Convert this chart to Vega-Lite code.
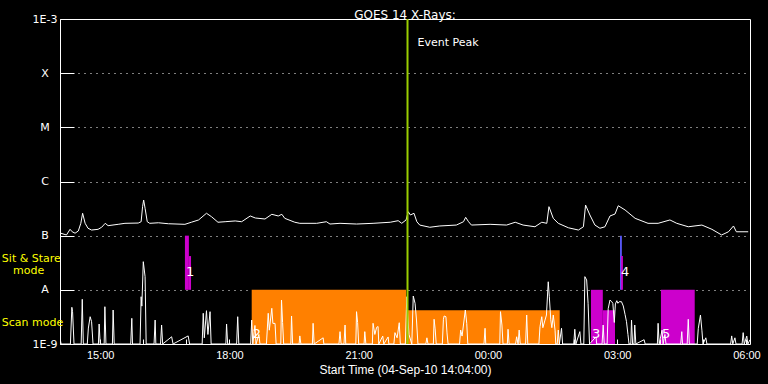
{
  "$schema": "https://vega.github.io/schema/vega-lite/v6.json",
  "width": 690,
  "height": 325,
  "autosize": {"type": "none"},
  "padding": {"left": 60, "top": 19, "right": 18, "bottom": 40},
  "background": "black",
  "config": {"view": {"stroke": "white", "strokeWidth": 1}},
  "title": {"text": "GOES 14 X-Rays:", "color": "white", "font": "DejaVu Sans", "fontSize": 12, "fontWeight": "normal", "offset": 1, "dy": 10},
  "datasets": {
    "modes": [
      {"t": "2010-09-04T16:58:00", "t2": "2010-09-04T17:03:30", "v": 1e-8, "v2": 1e-7, "mode": "Sit & Stare"},
      {"t": "2010-09-04T17:03:30", "t2": "2010-09-04T17:06:30", "v": 1e-8, "v2": 4.2e-8, "mode": "Sit & Stare"},
      {"t": "2010-09-04T18:31:00", "t2": "2010-09-04T22:06:00", "v": 1e-9, "v2": 1e-8, "mode": "Scan"},
      {"t": "2010-09-04T22:06:00", "t2": "2010-09-05T01:40:00", "v": 1e-9, "v2": 4.2e-9, "mode": "Scan"},
      {"t": "2010-09-05T02:23:30", "t2": "2010-09-05T02:40:00", "v": 1e-9, "v2": 1e-8, "mode": "Sit & Stare"},
      {"t": "2010-09-05T02:40:00", "t2": "2010-09-05T02:57:00", "v": 1e-9, "v2": 4.2e-9, "mode": "Sit & Stare"},
      {"t": "2010-09-05T03:04:00", "t2": "2010-09-05T03:06:30", "v": 1e-8, "v2": 1e-7, "mode": "Other"},
      {"t": "2010-09-05T03:05:30", "t2": "2010-09-05T03:08:00", "v": 1e-8, "v2": 4.2e-8, "mode": "Sit & Stare"},
      {"t": "2010-09-05T04:01:00", "t2": "2010-09-05T04:48:00", "v": 1e-9, "v2": 1e-8, "mode": "Sit & Stare"}
    ],
    "numbers": [
      {"t": "2010-09-04T16:58:00", "v": 2.13e-8, "label": "1"},
      {"t": "2010-09-04T18:31:00", "v": 1.53e-9, "label": "2"},
      {"t": "2010-09-05T02:23:30", "v": 1.53e-9, "label": "3"},
      {"t": "2010-09-05T03:04:00", "v": 2.13e-8, "label": "4"},
      {"t": "2010-09-05T04:01:00", "v": 1.53e-9, "label": "5"}
    ],
    "bands": [
      {"t": "2010-09-04T12:43:00", "v": 3.78e-8, "label": "Sit & Stare"},
      {"t": "2010-09-04T12:58:30", "v": 2.23e-8, "label": "mode"},
      {"t": "2010-09-04T12:43:00", "v": 2.44e-9, "label": "Scan mode"}
    ],
    "eventpeak": [{"t": "2010-09-04T22:08:00", "v": 3.6e-4, "label": "Event Peak"}],
    "goes": [
      {"t": "2010-09-04T14:05:00", "v": 1.11e-7},
      {"t": "2010-09-04T14:13:00", "v": 1.03e-7},
      {"t": "2010-09-04T14:18:00", "v": 1.31e-7},
      {"t": "2010-09-04T14:21:00", "v": 1.18e-7},
      {"t": "2010-09-04T14:25:00", "v": 1.11e-7},
      {"t": "2010-09-04T14:29:30", "v": 1.22e-7},
      {"t": "2010-09-04T14:33:00", "v": 1.69e-7},
      {"t": "2010-09-04T14:35:30", "v": 2.59e-7},
      {"t": "2010-09-04T14:39:00", "v": 1.69e-7},
      {"t": "2010-09-04T14:43:00", "v": 1.37e-7},
      {"t": "2010-09-04T14:48:00", "v": 1.27e-7},
      {"t": "2010-09-04T14:57:00", "v": 1.31e-7},
      {"t": "2010-09-04T15:02:00", "v": 1.43e-7},
      {"t": "2010-09-04T15:07:00", "v": 1.69e-7},
      {"t": "2010-09-04T15:11:00", "v": 1.53e-7},
      {"t": "2010-09-04T15:25:00", "v": 1.62e-7},
      {"t": "2010-09-04T15:34:30", "v": 1.69e-7},
      {"t": "2010-09-04T15:53:00", "v": 1.71e-7},
      {"t": "2010-09-04T15:57:00", "v": 1.81e-7},
      {"t": "2010-09-04T15:59:00", "v": 3.43e-7},
      {"t": "2010-09-04T16:00:30", "v": 4.55e-7},
      {"t": "2010-09-04T16:02:30", "v": 3.2e-7},
      {"t": "2010-09-04T16:05:30", "v": 1.81e-7},
      {"t": "2010-09-04T16:09:00", "v": 1.69e-7},
      {"t": "2010-09-04T16:21:00", "v": 1.73e-7},
      {"t": "2010-09-04T16:35:00", "v": 1.66e-7},
      {"t": "2010-09-04T16:58:00", "v": 1.62e-7},
      {"t": "2010-09-04T17:07:00", "v": 1.77e-7},
      {"t": "2010-09-04T17:17:00", "v": 1.95e-7},
      {"t": "2010-09-04T17:28:00", "v": 2.59e-7},
      {"t": "2010-09-04T17:35:00", "v": 2.24e-7},
      {"t": "2010-09-04T17:44:00", "v": 1.77e-7},
      {"t": "2010-09-04T17:54:00", "v": 1.81e-7},
      {"t": "2010-09-04T18:08:00", "v": 1.87e-7},
      {"t": "2010-09-04T18:17:00", "v": 1.81e-7},
      {"t": "2010-09-04T18:29:00", "v": 2.31e-7},
      {"t": "2010-09-04T18:36:00", "v": 2.12e-7},
      {"t": "2010-09-04T18:49:30", "v": 2.03e-7},
      {"t": "2010-09-04T18:59:00", "v": 2.48e-7},
      {"t": "2010-09-04T19:08:00", "v": 2.31e-7},
      {"t": "2010-09-04T19:13:00", "v": 2.48e-7},
      {"t": "2010-09-04T19:17:00", "v": 2.09e-7},
      {"t": "2010-09-04T19:31:00", "v": 1.77e-7},
      {"t": "2010-09-04T19:38:00", "v": 1.69e-7},
      {"t": "2010-09-04T20:01:30", "v": 1.69e-7},
      {"t": "2010-09-04T20:15:00", "v": 1.81e-7},
      {"t": "2010-09-04T20:20:00", "v": 1.64e-7},
      {"t": "2010-09-04T20:34:00", "v": 1.69e-7},
      {"t": "2010-09-04T20:57:00", "v": 1.64e-7},
      {"t": "2010-09-04T21:20:00", "v": 1.69e-7},
      {"t": "2010-09-04T21:44:00", "v": 1.77e-7},
      {"t": "2010-09-04T21:55:00", "v": 1.89e-7},
      {"t": "2010-09-04T22:00:00", "v": 1.69e-7},
      {"t": "2010-09-04T22:06:00", "v": 1.95e-7},
      {"t": "2010-09-04T22:09:00", "v": 2.77e-7},
      {"t": "2010-09-04T22:12:00", "v": 2.41e-7},
      {"t": "2010-09-04T22:17:00", "v": 2.59e-7},
      {"t": "2010-09-04T22:21:00", "v": 1.81e-7},
      {"t": "2010-09-04T22:25:00", "v": 1.57e-7},
      {"t": "2010-09-04T22:39:00", "v": 1.43e-7},
      {"t": "2010-09-04T22:53:00", "v": 1.51e-7},
      {"t": "2010-09-04T23:16:00", "v": 1.57e-7},
      {"t": "2010-09-04T23:26:00", "v": 1.81e-7},
      {"t": "2010-09-04T23:29:00", "v": 2.18e-7},
      {"t": "2010-09-04T23:33:00", "v": 1.81e-7},
      {"t": "2010-09-04T23:37:00", "v": 1.57e-7},
      {"t": "2010-09-05T00:03:00", "v": 1.62e-7},
      {"t": "2010-09-05T00:26:00", "v": 1.57e-7},
      {"t": "2010-09-05T00:38:00", "v": 1.77e-7},
      {"t": "2010-09-05T00:49:00", "v": 1.57e-7},
      {"t": "2010-09-05T01:05:30", "v": 1.46e-7},
      {"t": "2010-09-05T01:15:00", "v": 1.77e-7},
      {"t": "2010-09-05T01:22:00", "v": 1.69e-7},
      {"t": "2010-09-05T01:25:00", "v": 3.43e-7},
      {"t": "2010-09-05T01:31:00", "v": 2.09e-7},
      {"t": "2010-09-05T01:38:00", "v": 1.69e-7},
      {"t": "2010-09-05T01:52:00", "v": 1.4e-7},
      {"t": "2010-09-05T02:06:00", "v": 1.27e-7},
      {"t": "2010-09-05T02:13:00", "v": 1.46e-7},
      {"t": "2010-09-05T02:16:00", "v": 3.68e-7},
      {"t": "2010-09-05T02:22:00", "v": 2.41e-7},
      {"t": "2010-09-05T02:29:00", "v": 1.57e-7},
      {"t": "2010-09-05T02:36:00", "v": 1.37e-7},
      {"t": "2010-09-05T02:43:00", "v": 1.46e-7},
      {"t": "2010-09-05T02:50:00", "v": 2.31e-7},
      {"t": "2010-09-05T02:57:00", "v": 2.51e-7},
      {"t": "2010-09-05T03:01:30", "v": 3.57e-7},
      {"t": "2010-09-05T03:11:00", "v": 2.98e-7},
      {"t": "2010-09-05T03:25:00", "v": 2.09e-7},
      {"t": "2010-09-05T03:43:00", "v": 1.69e-7},
      {"t": "2010-09-05T03:57:00", "v": 1.69e-7},
      {"t": "2010-09-05T04:13:30", "v": 1.95e-7},
      {"t": "2010-09-05T04:23:00", "v": 1.69e-7},
      {"t": "2010-09-05T04:39:00", "v": 1.46e-7},
      {"t": "2010-09-05T04:58:00", "v": 1.57e-7},
      {"t": "2010-09-05T05:12:00", "v": 1.31e-7},
      {"t": "2010-09-05T05:25:30", "v": 1.03e-7},
      {"t": "2010-09-05T05:35:00", "v": 1.18e-7},
      {"t": "2010-09-05T05:42:00", "v": 1.51e-7},
      {"t": "2010-09-05T05:46:00", "v": 1.18e-7},
      {"t": "2010-09-05T06:02:30", "v": 1.18e-7}
    ],
    "low": [
      {"t": "2010-09-04T14:04:00", "v": 1.29e-9},
      {"t": "2010-09-04T14:05:30", "v": 1e-9},
      {"t": "2010-09-04T14:18:30", "v": 1e-9},
      {"t": "2010-09-04T14:20:30", "v": 4.76e-9},
      {"t": "2010-09-04T14:21:30", "v": 3.95e-9},
      {"t": "2010-09-04T14:23:30", "v": 1e-9},
      {"t": "2010-09-04T14:33:30", "v": 1e-9},
      {"t": "2010-09-04T14:35:00", "v": 6.69e-9},
      {"t": "2010-09-04T14:36:30", "v": 1e-9},
      {"t": "2010-09-04T14:42:00", "v": 1e-9},
      {"t": "2010-09-04T14:43:30", "v": 1.97e-9},
      {"t": "2010-09-04T14:46:00", "v": 3.19e-9},
      {"t": "2010-09-04T14:48:00", "v": 2.58e-9},
      {"t": "2010-09-04T14:50:00", "v": 1e-9},
      {"t": "2010-09-04T14:57:30", "v": 1e-9},
      {"t": "2010-09-04T14:58:30", "v": 2.34e-9},
      {"t": "2010-09-04T15:00:00", "v": 1e-9},
      {"t": "2010-09-04T15:05:30", "v": 1e-9},
      {"t": "2010-09-04T15:06:30", "v": 4.88e-9},
      {"t": "2010-09-04T15:08:00", "v": 1e-9},
      {"t": "2010-09-04T15:17:00", "v": 1e-9},
      {"t": "2010-09-04T15:18:00", "v": 4.24e-9},
      {"t": "2010-09-04T15:19:30", "v": 1e-9},
      {"t": "2010-09-04T15:42:30", "v": 1e-9},
      {"t": "2010-09-04T15:44:00", "v": 2.98e-9},
      {"t": "2010-09-04T15:45:00", "v": 1e-9},
      {"t": "2010-09-04T15:55:30", "v": 1e-9},
      {"t": "2010-09-04T15:57:00", "v": 7.46e-9},
      {"t": "2010-09-04T15:58:00", "v": 5e-9},
      {"t": "2010-09-04T16:00:00", "v": 3.31e-8},
      {"t": "2010-09-04T16:02:30", "v": 1.75e-8},
      {"t": "2010-09-04T16:04:00", "v": 1e-9},
      {"t": "2010-09-04T16:15:00", "v": 1e-9},
      {"t": "2010-09-04T16:16:30", "v": 2.77e-9},
      {"t": "2010-09-04T16:17:30", "v": 1e-9},
      {"t": "2010-09-04T16:24:00", "v": 1e-9},
      {"t": "2010-09-04T16:25:30", "v": 2.24e-9},
      {"t": "2010-09-04T16:27:00", "v": 1e-9},
      {"t": "2010-09-04T16:39:30", "v": 1.36e-9},
      {"t": "2010-09-04T16:41:30", "v": 1e-9},
      {"t": "2010-09-04T17:02:30", "v": 1.41e-9},
      {"t": "2010-09-04T17:04:30", "v": 1e-9},
      {"t": "2010-09-04T17:22:00", "v": 1e-9},
      {"t": "2010-09-04T17:23:30", "v": 3.69e-9},
      {"t": "2010-09-04T17:25:00", "v": 1.3e-9},
      {"t": "2010-09-04T17:28:00", "v": 4.12e-9},
      {"t": "2010-09-04T17:30:00", "v": 1.5e-9},
      {"t": "2010-09-04T17:33:00", "v": 3.95e-9},
      {"t": "2010-09-04T17:34:30", "v": 1e-9},
      {"t": "2010-09-04T17:55:00", "v": 1e-9},
      {"t": "2010-09-04T17:56:00", "v": 2.34e-9},
      {"t": "2010-09-04T17:57:30", "v": 1e-9},
      {"t": "2010-09-04T18:10:00", "v": 1e-9},
      {"t": "2010-09-04T18:11:30", "v": 3.19e-9},
      {"t": "2010-09-04T18:13:00", "v": 1e-9},
      {"t": "2010-09-04T18:29:30", "v": 1e-9},
      {"t": "2010-09-04T18:31:00", "v": 2.77e-9},
      {"t": "2010-09-04T18:32:30", "v": 1e-9},
      {"t": "2010-09-04T18:35:30", "v": 2.2e-9},
      {"t": "2010-09-04T18:37:00", "v": 1e-9},
      {"t": "2010-09-04T18:41:00", "v": 1.5e-9},
      {"t": "2010-09-04T18:42:30", "v": 1e-9},
      {"t": "2010-09-04T18:51:30", "v": 1e-9},
      {"t": "2010-09-04T18:54:00", "v": 3.69e-9},
      {"t": "2010-09-04T18:55:30", "v": 1.8e-9},
      {"t": "2010-09-04T18:59:00", "v": 4.56e-9},
      {"t": "2010-09-04T19:00:30", "v": 2.4e-9},
      {"t": "2010-09-04T19:03:30", "v": 2.4e-9},
      {"t": "2010-09-04T19:05:00", "v": 1e-9},
      {"t": "2010-09-04T19:11:30", "v": 1e-9},
      {"t": "2010-09-04T19:12:30", "v": 6.49e-9},
      {"t": "2010-09-04T19:14:00", "v": 2.5e-9},
      {"t": "2010-09-04T19:15:30", "v": 1e-9},
      {"t": "2010-09-04T19:25:30", "v": 1e-9},
      {"t": "2010-09-04T19:26:30", "v": 3.29e-9},
      {"t": "2010-09-04T19:28:00", "v": 1e-9},
      {"t": "2010-09-04T19:37:00", "v": 1e-9},
      {"t": "2010-09-04T19:38:00", "v": 1.41e-9},
      {"t": "2010-09-04T19:39:30", "v": 1e-9},
      {"t": "2010-09-04T19:55:30", "v": 1e-9},
      {"t": "2010-09-04T19:56:30", "v": 2.41e-9},
      {"t": "2010-09-04T19:58:00", "v": 1e-9},
      {"t": "2010-09-04T20:10:30", "v": 1.3e-9},
      {"t": "2010-09-04T20:11:30", "v": 1e-9},
      {"t": "2010-09-04T20:32:30", "v": 1e-9},
      {"t": "2010-09-04T20:34:00", "v": 1.69e-9},
      {"t": "2010-09-04T20:35:30", "v": 1e-9},
      {"t": "2010-09-04T20:39:30", "v": 1e-9},
      {"t": "2010-09-04T20:41:00", "v": 2.24e-9},
      {"t": "2010-09-04T20:42:00", "v": 1e-9},
      {"t": "2010-09-04T20:56:00", "v": 1e-9},
      {"t": "2010-09-04T20:57:00", "v": 3.95e-9},
      {"t": "2010-09-04T20:58:30", "v": 2.5e-9},
      {"t": "2010-09-04T21:00:00", "v": 1e-9},
      {"t": "2010-09-04T21:07:30", "v": 1e-9},
      {"t": "2010-09-04T21:08:30", "v": 1.69e-9},
      {"t": "2010-09-04T21:10:00", "v": 1e-9},
      {"t": "2010-09-04T21:19:00", "v": 1e-9},
      {"t": "2010-09-04T21:20:00", "v": 2.41e-9},
      {"t": "2010-09-04T21:22:30", "v": 1.5e-9},
      {"t": "2010-09-04T21:25:00", "v": 2.03e-9},
      {"t": "2010-09-04T21:27:00", "v": 2.1e-9},
      {"t": "2010-09-04T21:28:00", "v": 1e-9},
      {"t": "2010-09-04T21:33:30", "v": 1.4e-9},
      {"t": "2010-09-04T21:35:00", "v": 1e-9},
      {"t": "2010-09-04T21:41:00", "v": 1.35e-9},
      {"t": "2010-09-04T21:42:00", "v": 1e-9},
      {"t": "2010-09-04T21:49:00", "v": 1e-9},
      {"t": "2010-09-04T21:50:30", "v": 1.62e-9},
      {"t": "2010-09-04T21:53:30", "v": 1.3e-9},
      {"t": "2010-09-04T21:56:30", "v": 2.47e-9},
      {"t": "2010-09-04T21:58:00", "v": 1e-9},
      {"t": "2010-09-04T22:05:00", "v": 1e-9},
      {"t": "2010-09-04T22:07:00", "v": 7.46e-9},
      {"t": "2010-09-04T22:08:00", "v": 4e-9},
      {"t": "2010-09-04T22:10:00", "v": 1.5e-9},
      {"t": "2010-09-04T22:14:00", "v": 1e-9},
      {"t": "2010-09-04T22:16:00", "v": 7.69e-9},
      {"t": "2010-09-04T22:18:30", "v": 5.64e-9},
      {"t": "2010-09-04T22:20:30", "v": 2.77e-9},
      {"t": "2010-09-04T22:22:30", "v": 1e-9},
      {"t": "2010-09-04T22:33:30", "v": 1e-9},
      {"t": "2010-09-04T22:35:00", "v": 1.3e-9},
      {"t": "2010-09-04T22:36:30", "v": 1e-9},
      {"t": "2010-09-04T22:44:00", "v": 1e-9},
      {"t": "2010-09-04T22:45:00", "v": 2.86e-9},
      {"t": "2010-09-04T22:46:30", "v": 1.9e-9},
      {"t": "2010-09-04T22:48:00", "v": 1e-9},
      {"t": "2010-09-04T22:56:30", "v": 1e-9},
      {"t": "2010-09-04T22:58:00", "v": 2.86e-9},
      {"t": "2010-09-04T22:59:00", "v": 3.29e-9},
      {"t": "2010-09-04T23:01:30", "v": 3.19e-9},
      {"t": "2010-09-04T23:03:00", "v": 1.6e-9},
      {"t": "2010-09-04T23:04:30", "v": 1e-9},
      {"t": "2010-09-04T23:20:30", "v": 1e-9},
      {"t": "2010-09-04T23:22:00", "v": 1.81e-9},
      {"t": "2010-09-04T23:24:00", "v": 1.4e-9},
      {"t": "2010-09-04T23:28:30", "v": 4.24e-9},
      {"t": "2010-09-04T23:30:30", "v": 2.41e-9},
      {"t": "2010-09-04T23:32:00", "v": 1e-9},
      {"t": "2010-09-04T23:54:30", "v": 1e-9},
      {"t": "2010-09-04T23:56:00", "v": 1.95e-9},
      {"t": "2010-09-04T23:57:00", "v": 1e-9},
      {"t": "2010-09-05T00:16:30", "v": 1e-9},
      {"t": "2010-09-05T00:17:30", "v": 3.95e-9},
      {"t": "2010-09-05T00:19:30", "v": 2.24e-9},
      {"t": "2010-09-05T00:21:00", "v": 1e-9},
      {"t": "2010-09-05T00:27:00", "v": 1e-9},
      {"t": "2010-09-05T00:28:00", "v": 1.87e-9},
      {"t": "2010-09-05T00:29:30", "v": 1e-9},
      {"t": "2010-09-05T00:38:30", "v": 1e-9},
      {"t": "2010-09-05T00:40:00", "v": 1.36e-9},
      {"t": "2010-09-05T00:42:00", "v": 1e-9},
      {"t": "2010-09-05T00:43:30", "v": 1.81e-9},
      {"t": "2010-09-05T00:45:00", "v": 1e-9},
      {"t": "2010-09-05T00:52:30", "v": 1e-9},
      {"t": "2010-09-05T00:54:00", "v": 3.43e-9},
      {"t": "2010-09-05T00:55:30", "v": 1e-9},
      {"t": "2010-09-05T01:11:00", "v": 1e-9},
      {"t": "2010-09-05T01:12:30", "v": 2.09e-9},
      {"t": "2010-09-05T01:15:00", "v": 3.19e-9},
      {"t": "2010-09-05T01:16:30", "v": 2e-9},
      {"t": "2010-09-05T01:19:30", "v": 2.77e-9},
      {"t": "2010-09-05T01:21:30", "v": 3.43e-9},
      {"t": "2010-09-05T01:24:00", "v": 1.41e-8},
      {"t": "2010-09-05T01:25:30", "v": 7.46e-9},
      {"t": "2010-09-05T01:27:30", "v": 2.8e-9},
      {"t": "2010-09-05T01:29:00", "v": 2e-9},
      {"t": "2010-09-05T01:31:00", "v": 3.43e-9},
      {"t": "2010-09-05T01:33:30", "v": 1.8e-9},
      {"t": "2010-09-05T01:34:30", "v": 1e-9},
      {"t": "2010-09-05T01:36:30", "v": 1e-9},
      {"t": "2010-09-05T01:38:00", "v": 1.81e-9},
      {"t": "2010-09-05T01:39:30", "v": 1e-9},
      {"t": "2010-09-05T01:42:30", "v": 1.95e-9},
      {"t": "2010-09-05T01:44:00", "v": 1e-9},
      {"t": "2010-09-05T01:59:30", "v": 1e-9},
      {"t": "2010-09-05T02:01:00", "v": 1.87e-9},
      {"t": "2010-09-05T02:02:30", "v": 1e-9},
      {"t": "2010-09-05T02:08:00", "v": 1.69e-9},
      {"t": "2010-09-05T02:09:30", "v": 1e-9},
      {"t": "2010-09-05T02:13:30", "v": 1e-9},
      {"t": "2010-09-05T02:15:00", "v": 1.75e-8},
      {"t": "2010-09-05T02:17:30", "v": 1.52e-8},
      {"t": "2010-09-05T02:19:30", "v": 5.64e-9},
      {"t": "2010-09-05T02:21:30", "v": 1e-9},
      {"t": "2010-09-05T02:30:30", "v": 1.36e-9},
      {"t": "2010-09-05T02:31:30", "v": 1e-9},
      {"t": "2010-09-05T02:39:00", "v": 1e-9},
      {"t": "2010-09-05T02:40:30", "v": 2.24e-9},
      {"t": "2010-09-05T02:42:00", "v": 1e-9},
      {"t": "2010-09-05T02:46:00", "v": 1e-9},
      {"t": "2010-09-05T02:47:30", "v": 4.5e-9},
      {"t": "2010-09-05T02:50:00", "v": 6.49e-9},
      {"t": "2010-09-05T02:52:30", "v": 6.04e-9},
      {"t": "2010-09-05T02:54:00", "v": 5.6e-9},
      {"t": "2010-09-05T02:56:00", "v": 2.5e-9},
      {"t": "2010-09-05T02:57:30", "v": 5.5e-9},
      {"t": "2010-09-05T02:59:30", "v": 6.3e-9},
      {"t": "2010-09-05T03:01:00", "v": 5.64e-9},
      {"t": "2010-09-05T03:03:00", "v": 6.04e-9},
      {"t": "2010-09-05T03:06:00", "v": 6.04e-9},
      {"t": "2010-09-05T03:08:30", "v": 5.03e-9},
      {"t": "2010-09-05T03:11:00", "v": 3.5e-9},
      {"t": "2010-09-05T03:13:00", "v": 2.58e-9},
      {"t": "2010-09-05T03:15:00", "v": 1.5e-9},
      {"t": "2010-09-05T03:16:30", "v": 1e-9},
      {"t": "2010-09-05T03:19:00", "v": 1e-9},
      {"t": "2010-09-05T03:20:00", "v": 2.77e-9},
      {"t": "2010-09-05T03:21:30", "v": 1e-9},
      {"t": "2010-09-05T03:23:30", "v": 1e-9},
      {"t": "2010-09-05T03:24:30", "v": 2.24e-9},
      {"t": "2010-09-05T03:26:00", "v": 1e-9},
      {"t": "2010-09-05T03:37:30", "v": 1.2e-9},
      {"t": "2010-09-05T03:39:00", "v": 1e-9},
      {"t": "2010-09-05T03:56:00", "v": 1e-9},
      {"t": "2010-09-05T03:57:00", "v": 2.41e-9},
      {"t": "2010-09-05T03:58:30", "v": 1e-9},
      {"t": "2010-09-05T04:02:30", "v": 1.8e-9},
      {"t": "2010-09-05T04:04:00", "v": 1e-9},
      {"t": "2010-09-05T04:06:30", "v": 1.5e-9},
      {"t": "2010-09-05T04:08:00", "v": 1e-9},
      {"t": "2010-09-05T04:28:30", "v": 1e-9},
      {"t": "2010-09-05T04:30:00", "v": 1.69e-9},
      {"t": "2010-09-05T04:31:00", "v": 1e-9},
      {"t": "2010-09-05T04:37:30", "v": 1e-9},
      {"t": "2010-09-05T04:39:00", "v": 2.86e-9},
      {"t": "2010-09-05T04:40:30", "v": 1e-9},
      {"t": "2010-09-05T04:51:30", "v": 1e-9},
      {"t": "2010-09-05T04:53:00", "v": 1.95e-9},
      {"t": "2010-09-05T04:56:00", "v": 3.43e-9},
      {"t": "2010-09-05T04:58:00", "v": 1.8e-9},
      {"t": "2010-09-05T04:59:30", "v": 1e-9},
      {"t": "2010-09-05T05:03:30", "v": 1.3e-9},
      {"t": "2010-09-05T05:05:00", "v": 1e-9},
      {"t": "2010-09-05T05:38:00", "v": 1e-9},
      {"t": "2010-09-05T05:39:30", "v": 1.41e-9},
      {"t": "2010-09-05T05:41:00", "v": 1e-9},
      {"t": "2010-09-05T05:44:00", "v": 1.3e-9},
      {"t": "2010-09-05T05:45:30", "v": 1e-9},
      {"t": "2010-09-05T05:54:00", "v": 1e-9},
      {"t": "2010-09-05T05:55:30", "v": 1.62e-9},
      {"t": "2010-09-05T05:57:00", "v": 1e-9},
      {"t": "2010-09-05T06:00:30", "v": 1.4e-9},
      {"t": "2010-09-05T06:02:00", "v": 1e-9},
      {"t": "2010-09-05T06:05:00", "v": 1.2e-9}
    ]
  },
  "layer": [
    {
      "data": {"name": "modes"},
      "mark": {"type": "rect"},
      "encoding": {
        "x": {"field": "t", "type": "temporal",
          "scale": {"domain": [{"year": 2010, "month": 9, "date": 4, "hours": 14, "minutes": 4}, {"year": 2010, "month": 9, "date": 5, "hours": 6, "minutes": 5}]},
          "axis": {"orient": "bottom",
            "values": [
              {"year": 2010, "month": 9, "date": 4, "hours": 15},
              {"year": 2010, "month": 9, "date": 4, "hours": 16},
              {"year": 2010, "month": 9, "date": 4, "hours": 17},
              {"year": 2010, "month": 9, "date": 4, "hours": 18},
              {"year": 2010, "month": 9, "date": 4, "hours": 19},
              {"year": 2010, "month": 9, "date": 4, "hours": 20},
              {"year": 2010, "month": 9, "date": 4, "hours": 21},
              {"year": 2010, "month": 9, "date": 4, "hours": 22},
              {"year": 2010, "month": 9, "date": 4, "hours": 23},
              {"year": 2010, "month": 9, "date": 5, "hours": 0},
              {"year": 2010, "month": 9, "date": 5, "hours": 1},
              {"year": 2010, "month": 9, "date": 5, "hours": 2},
              {"year": 2010, "month": 9, "date": 5, "hours": 3},
              {"year": 2010, "month": 9, "date": 5, "hours": 4},
              {"year": 2010, "month": 9, "date": 5, "hours": 5},
              {"year": 2010, "month": 9, "date": 5, "hours": 6}
            ],
            "format": "%H:%M",
            "labelExpr": "indexof(['15:00', '18:00', '21:00', '00:00', '03:00', '06:00'], datum.label) >= 0 ? datum.label : ''",
            "domain": false, "grid": false,
            "tickColor": "white", "tickSize": -5,
            "labelColor": "white", "labelFont": "Liberation Sans", "labelFontSize": 11, "labelPadding": 10, "labelOverlap": false,
            "title": "Start Time (04-Sep-10 14:04:00)", "titleColor": "white", "titleFont": "Liberation Sans", "titleFontSize": 12, "titleFontWeight": "normal", "titlePadding": 4}},
        "x2": {"field": "t2"},
        "y": {"field": "v", "type": "quantitative",
          "scale": {"type": "log", "domain": [1e-9, 1e-3], "nice": false},
          "axis": {"orient": "left", "values": [1e-9, 1e-8, 1e-7, 1e-6, 1e-5, 1e-4, 1e-3],
            "labelExpr": "datum.value < 5e-9 ? '1E-9' : datum.value < 5e-8 ? 'A' : datum.value < 5e-7 ? 'B' : datum.value < 5e-6 ? 'C' : datum.value < 5e-5 ? 'M' : datum.value < 5e-4 ? 'X' : '1E-3'",
            "domain": false, "tickSize": -14, "tickColor": "white",
            "grid": true, "gridColor": "white", "gridDash": [1, 5], "gridWidth": 1,
            "labelColor": "white", "labelAlign": "center", "labelPadding": 29.5,
            "labelBaseline": "middle", "labelFont": "DejaVu Sans", "labelFontSize": 11, "labelOverlap": false, "title": null}},
        "y2": {"field": "v2"},
        "color": {"field": "mode", "type": "nominal", "scale": {"domain": ["Scan", "Sit & Stare", "Other"], "range": ["#FF8000", "#CC00CC", "#5A5AFF"]}, "legend": null}
      }
    },
    {
      "data": {"name": "goes"},
      "mark": {"type": "line", "color": "white", "strokeWidth": 1, "clip": true},
      "encoding": {
        "x": {"field": "t", "type": "temporal"},
        "y": {"field": "v", "type": "quantitative"}
      }
    },
    {
      "data": {"name": "low"},
      "mark": {"type": "line", "color": "white", "strokeWidth": 1, "clip": true},
      "encoding": {
        "x": {"field": "t", "type": "temporal"},
        "y": {"field": "v", "type": "quantitative"}
      }
    },
    {
      "data": {"name": "eventpeak"},
      "mark": {"type": "rule", "color": "#9ACD00", "strokeWidth": 2},
      "encoding": {
        "x": {"field": "t", "type": "temporal"}
      }
    },
    {
      "data": {"name": "eventpeak"},
      "mark": {"type": "text", "color": "white", "align": "left", "baseline": "middle", "dx": 10, "font": "DejaVu Sans", "fontSize": 11},
      "encoding": {
        "x": {"field": "t", "type": "temporal"},
        "y": {"field": "v", "type": "quantitative"},
        "text": {"field": "label"}
      }
    },
    {
      "data": {"name": "numbers"},
      "mark": {"type": "text", "color": "white", "align": "left", "baseline": "middle", "dx": 1, "font": "DejaVu Sans", "fontSize": 13},
      "encoding": {
        "x": {"field": "t", "type": "temporal"},
        "y": {"field": "v", "type": "quantitative"},
        "text": {"field": "label"}
      }
    },
    {
      "data": {"name": "bands"},
      "mark": {"type": "text", "color": "#FFFF00", "align": "left", "baseline": "middle", "font": "DejaVu Sans", "fontSize": 11, "clip": false},
      "encoding": {
        "x": {"field": "t", "type": "temporal"},
        "y": {"field": "v", "type": "quantitative"},
        "text": {"field": "label"}
      }
    }
  ]
}
